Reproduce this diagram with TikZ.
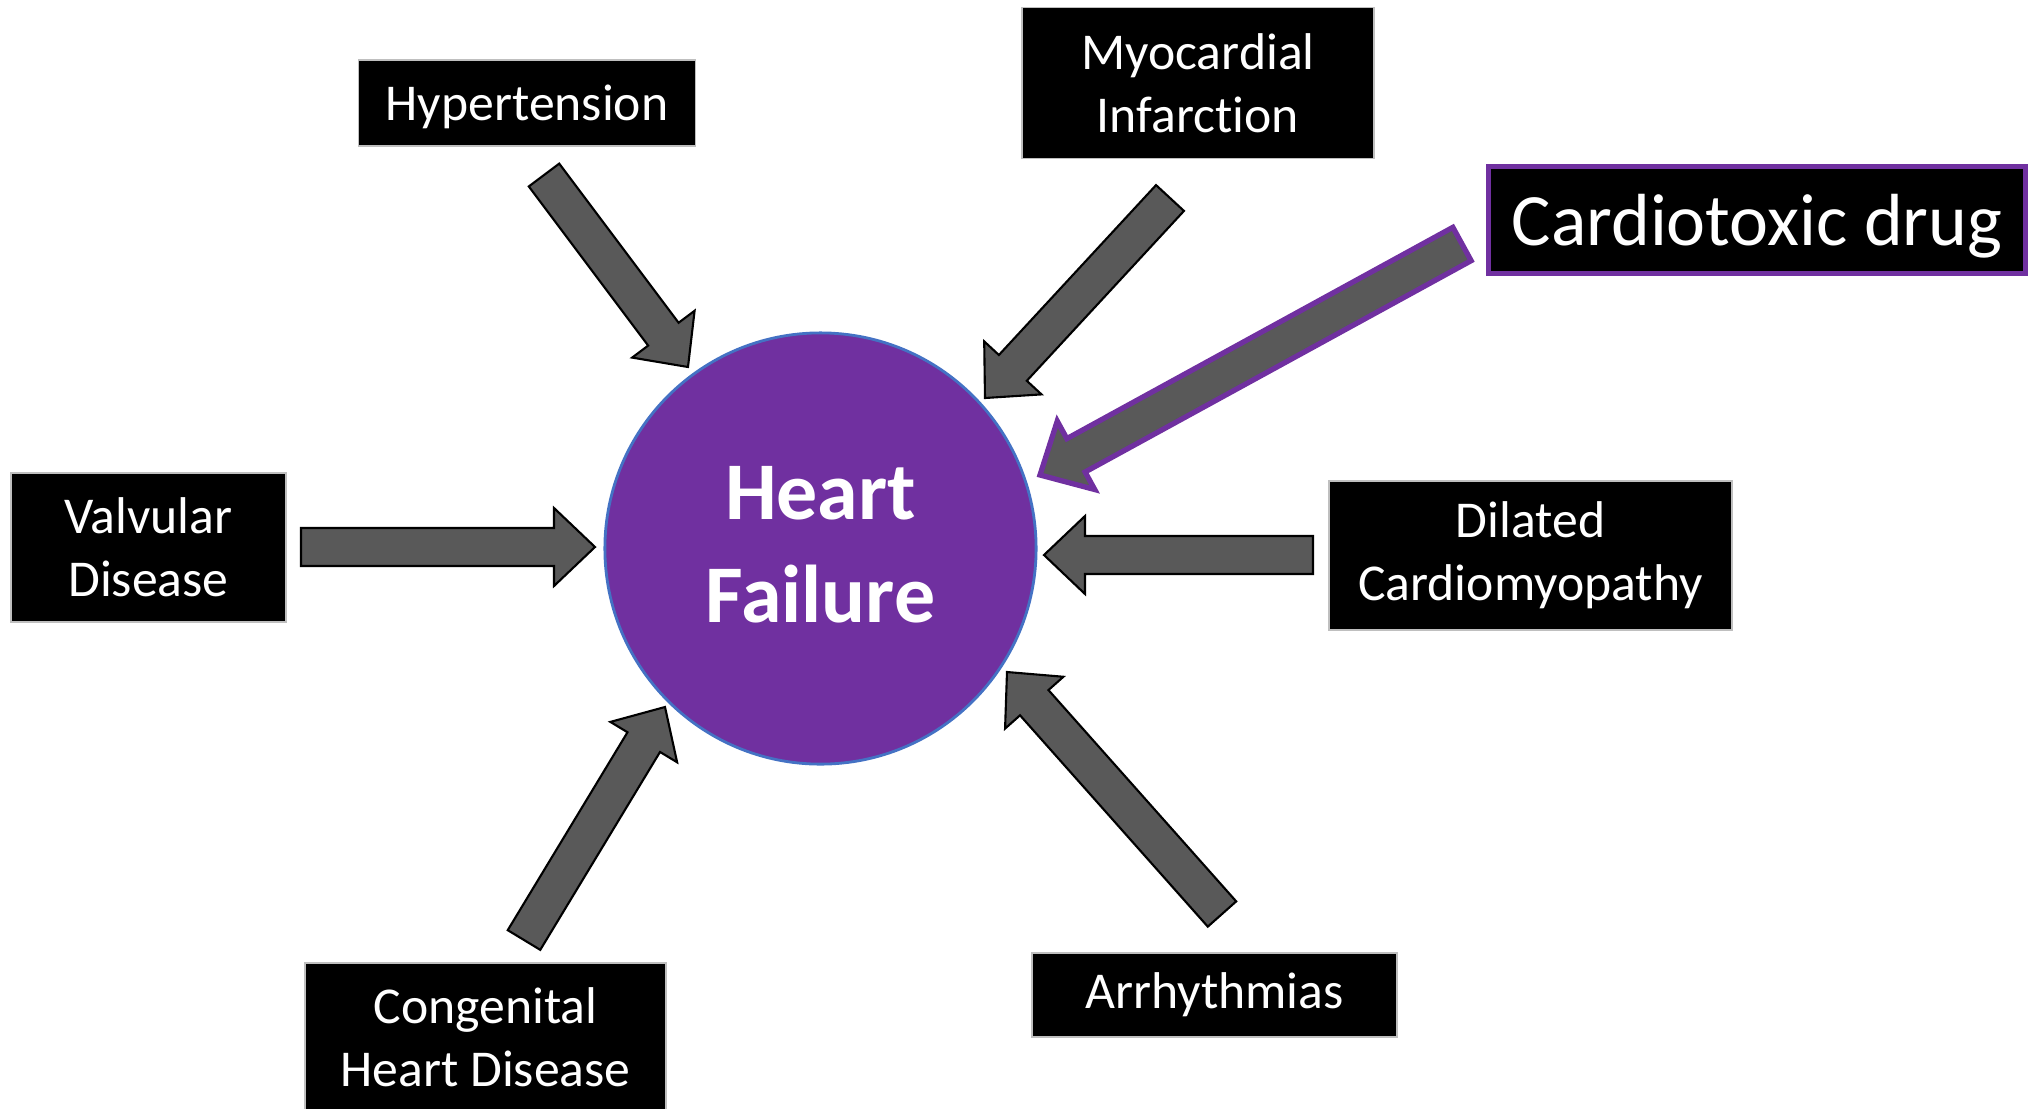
\documentclass[tikz,border=0pt]{standalone}
\usepackage{fontspec}
\setmainfont{Carlito}[Ligatures={NoCommon,NoContextual}]
\usetikzlibrary{calc}
\definecolor{hfpurple}{HTML}{7030A0}
\definecolor{arrowgray}{HTML}{595959}
\definecolor{rimblue}{HTML}{4472C4}

% block arrow from #2 to #3
\newcommand{\blockarrow}[3][]{%
  \path ($(#3)!0.41cm!(#2)$) coordinate (hb);
  \draw[blk,#1] ($(#2)!0.19cm!90:(#3)$) -- ($(hb)!0.19cm!90:(#3)$)
    -- ($(hb)!0.39cm!90:(#3)$) -- (#3)
    -- ($(hb)!0.39cm!-90:(#3)$) -- ($(hb)!0.19cm!-90:(#3)$)
    -- ($(#2)!0.19cm!-90:(#3)$) -- cycle;
}

\begin{document}
\begin{tikzpicture}[x=0.01cm,y=-0.01cm,
  cause/.style={fill=black,draw=gray!50,line width=0.4pt,text=white,align=center,
                inner sep=0pt,font=\fontsize{14.7}{18}\selectfont},
  hot/.style={draw=hfpurple,line width=1.5pt},
  blk/.style={fill=arrowgray,draw=black,line width=0.6pt,line join=miter}
]
\useasboundingbox (0,0) rectangle (2038,1108);
\node[circle,fill=hfpurple,draw=rimblue,line width=0.8pt,minimum size=4.31cm,inner sep=0pt,
      text=white,align=center,text depth=0.08cm,font=\fontsize{23.3}{29.2}\selectfont\bfseries] (hf) at (820.5,548.5) {Heart\\Failure};
\node[cause,minimum width=3.37cm,minimum height=0.86cm,text depth=0pt] (hyp) at (527,103) {Hypertension};
\node[cause,minimum width=3.52cm,minimum height=1.51cm] (mi) at (1198,83) {Myocardial\\Infarction};
\node[cause,hot,minimum width=5.37cm,minimum height=1.07cm,text depth=0pt,font=\fontsize{21}{25}\selectfont] (drug) at (1757,220) {Cardiotoxic drug};
\node[cause,minimum width=2.75cm,minimum height=1.49cm] (valv) at (148.5,547.5) {Valvular\\Disease};
\node[cause,minimum width=4.03cm,minimum height=1.49cm] (dcm) at (1530.5,555.5) {Dilated\\Cardiomyopathy};
\node[cause,minimum width=3.61cm,minimum height=1.48cm] (chd) at (485.5,1037) {Congenital\\Heart Disease};
\node[cause,minimum width=3.65cm,minimum height=0.84cm] (arr) at (1214.5,995) {Arrhythmias};
% arrow ends
\coordinate (hyp-t) at (544,175);   \coordinate (hyp-h) at (688,367);
\coordinate (mi-t) at (1170,198);   \coordinate (mi-h) at (985,398);
\coordinate (drug-t) at (1462,244); \coordinate (drug-h) at (1040,475);
\coordinate (valv-t) at (301,547);  \coordinate (valv-h) at (595,547);
\coordinate (dcm-t) at (1313,555);  \coordinate (dcm-h) at (1044,555);
\coordinate (arr-t) at (1222,914);  \coordinate (arr-h) at (1007,672);
\coordinate (chd-t) at (524,940);   \coordinate (chd-h) at (665,707);
\blockarrow{hyp-t}{hyp-h}
\blockarrow{mi-t}{mi-h}
\blockarrow[hot]{drug-t}{drug-h}
\blockarrow{valv-t}{valv-h}
\blockarrow{dcm-t}{dcm-h}
\blockarrow{arr-t}{arr-h}
\blockarrow{chd-t}{chd-h}
\end{tikzpicture}
\end{document}
